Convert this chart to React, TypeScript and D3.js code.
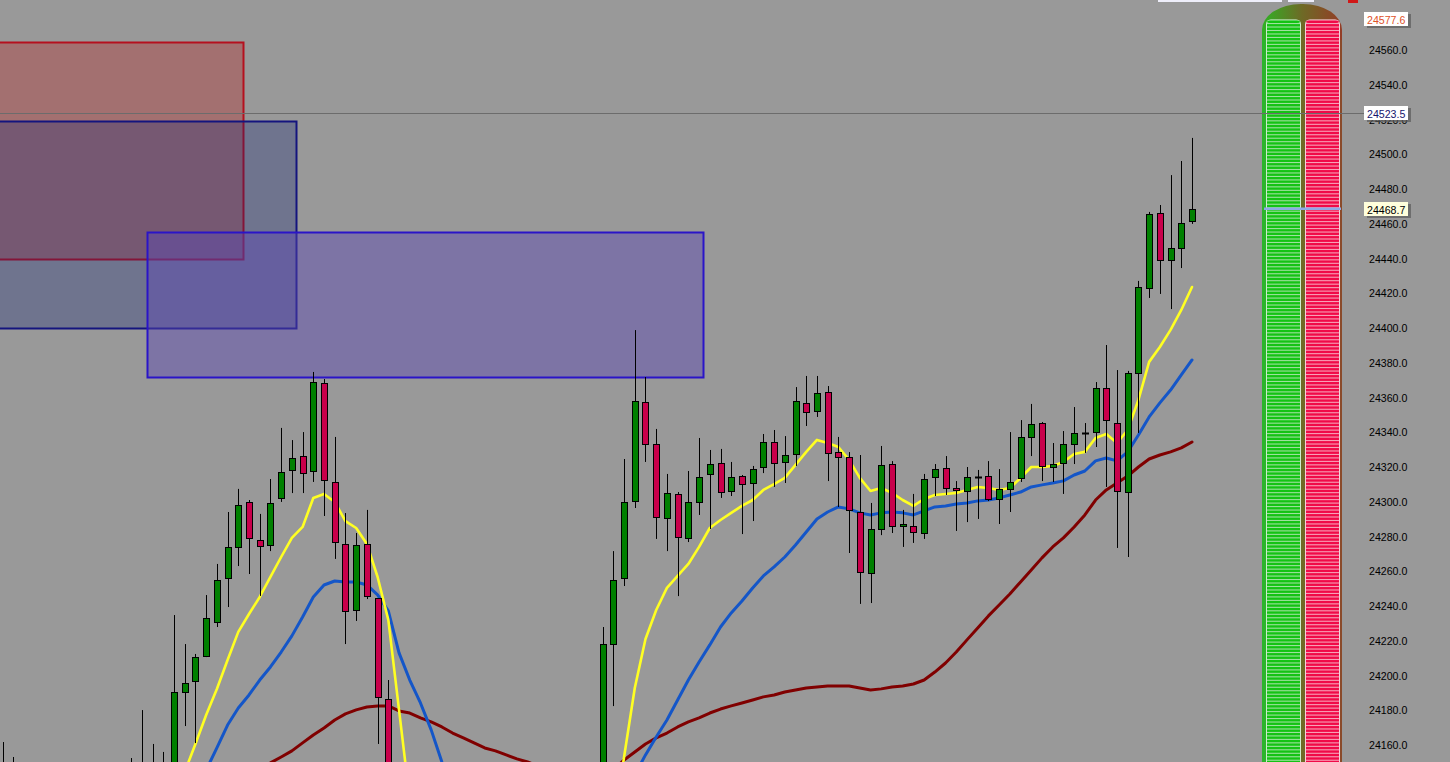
import React from "react";
import * as d3 from "d3";

const W = 1450;
const H = 762;

// OHLC per bar (bar 0 is the leftmost partly visible bar)
const opens = [
  24145, 24140, 24138, 24125, 24132, 24121, 24108, 24118, 24130, 24115, 24105, 24117, 24133, 24128, 24140, 24132,
  24142, 24190.5, 24196.8, 24211.2, 24230.8, 24256.1, 24274.0, 24299.9, 24278.0, 24275.1, 24302.2, 24318.3, 24326.3, 24317.7,
  24368.3, 24311.4, 24275.7, 24237.7, 24275.7, 24244.6, 24186.5,
  24140, 24112, 24120, 24108, 24098, 24110, 24122, 24115, 24102, 24095, 24106, 24118, 24110, 24100, 24092, 24104, 24116, 24128, 24120,
  24134, 24218.1, 24256.1, 24300.4, 24357.4, 24333.2, 24290.6, 24304.5, 24279.1, 24299.9, 24316.0, 24322.3, 24306.2, 24314.8,
  24310.8, 24320.0, 24334.4, 24322.9, 24327.5, 24356.8, 24352.2, 24363.2, 24328.6, 24325.7, 24294.1, 24259.0, 24284.3, 24321.7,
  24286.0, 24286.0, 24282.0, 24314.3, 24319.4, 24307.9, 24306.2, 24314.3, 24314.8, 24301.6, 24307.3, 24313.7, 24337.3, 24345.3,
  24320.0, 24322.3, 24333.2, 24339.6, 24340.1, 24365.5, 24345.3, 24305.6, 24374.1, 24423.0, 24466.2, 24439.1, 24446.0, 24461.6,
];
const highs = [
  24161.7, 24153.1, 24147, 24140, 24145, 24134, 24126, 24138, 24144, 24130, 24122, 24140, 24152.5, 24180.1, 24160.6, 24156.0,
  24234.8, 24218.1, 24212.4, 24246.3, 24264.2, 24294.1, 24307.4, 24301.0, 24293.0, 24313.1, 24342.5, 24335.5, 24340.1, 24374.7,
  24370.6, 24337.3, 24293.5, 24282.0, 24295.3, 24244.6, 24197.4,
  24148, 24130, 24138, 24125, 24115, 24128, 24140, 24130, 24118, 24112, 24124, 24135, 24126, 24118, 24110, 24122, 24135, 24142, 24140,
  24227.9, 24271.6, 24324.6, 24398.8, 24371.8, 24341.9, 24316.0, 24305.6, 24317.7, 24336.7, 24329.8, 24330.4, 24322.9, 24315.4,
  24320.6, 24339.0, 24341.3, 24337.8, 24366.0, 24372.4, 24372.4, 24366.6, 24337.3, 24328.6, 24326.9, 24299.3, 24332.1, 24323.4,
  24295.3, 24304.5, 24316.0, 24321.7, 24326.3, 24311.9, 24320.0, 24318.3, 24323.4, 24318.8, 24340.1, 24347.0, 24356.3, 24345.9,
  24333.8, 24340.7, 24354.5, 24345.3, 24368.9, 24390.2, 24375.8, 24375.3, 24427.1, 24466.8, 24470.8, 24488.0, 24496.1, 24509.4,
];
const lows = [
  24125, 24128, 24120, 24110, 24118, 24100, 24095, 24110, 24112, 24098, 24092, 24108, 24120, 24115, 24125, 24118,
  24130, 24170.9, 24161.1, 24210.6, 24227.9, 24239.4, 24263.0, 24258.4, 24245.8, 24271.6, 24299.9, 24305.0, 24305.0, 24311.4,
  24291.8, 24267.1, 24218.1, 24231.4, 24244.0, 24160.6, 24120,
  24105, 24098, 24102, 24090, 24085, 24100, 24110, 24096, 24088, 24080, 24098, 24105, 24094, 24086, 24078, 24095, 24108, 24112, 24110,
  24125, 24182.4, 24251.5, 24296.4, 24322.9, 24278.6, 24271.6, 24245.7, 24276.8, 24292.4, 24284.3, 24302.2, 24303.3, 24281.4,
  24288.9, 24316.5, 24308.5, 24310.8, 24320.6, 24343.6, 24348.8, 24311.9, 24297.0, 24270.5, 24241.2, 24241.7, 24280.8, 24282.0,
  24274.0, 24276.3, 24278.6, 24303.3, 24303.9, 24283.2, 24288.3, 24290.1, 24300.4, 24287.2, 24294.1, 24311.4, 24326.3, 24311.9,
  24311.4, 24304.5, 24321.7, 24328.1, 24331.5, 24308.5, 24273.4, 24268.2, 24339.6, 24417.3, 24419.6, 24410.9, 24434.5, 24459.9,
];
const closes = [
  24135, 24146, 24125, 24132, 24121, 24108, 24118, 24130, 24115, 24105, 24117, 24133, 24128, 24140, 24132, 24142,
  24190.5, 24195.7, 24210.6, 24233.1, 24255.0, 24274.0, 24298.1, 24279.1, 24274.5, 24299.3, 24317.1, 24325.2, 24316.5, 24368.9,
  24312.5, 24276.8, 24237.1, 24275.1, 24245.7, 24187.6, 24140,
  24112, 24120, 24108, 24098, 24110, 24122, 24115, 24102, 24095, 24106, 24118, 24110, 24100, 24092, 24104, 24116, 24128, 24120, 24134,
  24218.1, 24255.0, 24299.9, 24358.0, 24333.2, 24291.2, 24305.0, 24279.7, 24299.9, 24314.3, 24321.7, 24305.6, 24314.3, 24310.2,
  24318.8, 24334.4, 24322.3, 24326.9, 24358.0, 24351.6, 24362.6, 24328.1, 24325.7, 24295.3, 24259.6, 24284.3, 24321.1, 24286.0,
  24287.2, 24282.6, 24313.1, 24318.8, 24307.9, 24306.8, 24314.3, 24314.3, 24301.6, 24307.3, 24311.4, 24337.3, 24344.8, 24320.6,
  24321.7, 24333.2, 24339.6, 24339.6, 24365.5, 24347.0, 24306.2, 24374.1, 24423.6, 24465.6, 24439.1, 24446.0, 24460.4, 24468.7,
];

// moving averages: visible stretches, each with the bar index it starts at
const fastLeftStart = 17;
const fastLeft = [
  24144.5, 24160.6, 24177.3, 24192.2, 24208.9, 24225.1, 24235.4, 24245.2, 24256.7, 24268.2, 24279.2,
  24285.5, 24302.2, 24304.5, 24299.9, 24288.9, 24284.9, 24275.7, 24256.7, 24232.0, 24180.2, 24128.4,
];
const fastRightStart = 57;
const fastRight = [
  24111.1, 24153.1, 24192.8, 24221.0, 24237.7, 24250.4, 24257.3, 24264.2, 24274.0, 24284.9, 24289.5, 24293.6,
  24297.6, 24301.0, 24306.8, 24310.2, 24313.7, 24321.2, 24328.7, 24335.6, 24333.8, 24331.5, 24324.1, 24313.7,
  24306.2, 24307.9, 24305.1, 24301.0, 24297.6, 24301.6, 24303.9, 24304.5, 24305.1, 24306.8, 24308.5, 24307.9,
  24306.8, 24307.9, 24313.7, 24320.0, 24320.0, 24320.6, 24322.9, 24327.5, 24328.7, 24336.7, 24339.0, 24333.8,
  24341.3, 24358.6, 24380.5, 24389.1, 24398.9, 24410.4, 24423.6,
];
const midLeftStart = 19;
const midLeft = [
  24145.6, 24158.3, 24171.5, 24181.3, 24188.8, 24197.4, 24204.9, 24213.5, 24222.8, 24233.7, 24245.2, 24252.1,
  24254.4, 24253.8, 24253.8, 24252.1, 24246.4, 24237.2, 24213.0, 24197.4, 24184.2, 24168.7, 24150.2, 24134.1,
];
const midRightStart = 59;
const midRight = [
  24142.8, 24154.3, 24164.6, 24174.4, 24185.9, 24197.4, 24207.8, 24217.6, 24227.9, 24236.0, 24242.9, 24250.4,
  24257.3, 24262.5, 24268.2, 24275.1, 24282.6, 24290.1, 24294.1, 24297.0, 24295.9, 24293.6, 24292.4, 24293.6,
  24294.1, 24293.6, 24292.4, 24294.7, 24297.0, 24297.6, 24298.7, 24299.3, 24300.5, 24301.0, 24302.2, 24303.9,
  24305.6, 24308.5, 24309.7, 24310.8, 24312.0, 24315.4, 24317.7, 24323.5, 24325.2, 24323.5, 24328.7, 24338.4,
  24348.8, 24356.9, 24364.3, 24373.0, 24381.6,
];
const slowLeftStart = 24;
const slowLeft = [
  24144.5, 24149.7, 24153.1, 24156.6, 24161.2, 24165.8, 24169.8, 24174.4, 24177.9, 24180.2, 24181.9, 24182.5,
  24182.5, 24179.6, 24178.4, 24175.6, 24173.3, 24170.4, 24166.9, 24164.1, 24161.2, 24158.3, 24156.6, 24154.3,
  24152.0, 24150.2, 24147.9,
];
const slowRightStart = 57;
const slowRight = [
  24145.6, 24151.4, 24156.0, 24160.6, 24164.1, 24166.9, 24170.4, 24173.3, 24175.6, 24178.4, 24180.7, 24182.5,
  24184.2, 24185.9, 24187.7, 24188.8, 24190.5, 24191.7, 24192.8, 24193.4, 24194.0, 24194.0, 24194.0, 24192.8,
  24191.7, 24192.3, 24193.4, 24194.0, 24195.1, 24197.4, 24202.0, 24207.2, 24213.5, 24220.5, 24227.4, 24234.3,
  24240.6, 24246.9, 24253.8, 24260.7, 24267.7, 24274.0, 24279.2, 24285.5, 24292.4, 24301.0, 24306.8, 24310.8,
  24314.8, 24320.0, 24324.6, 24326.9, 24328.7, 24331.0, 24334.4,
];

// zones: bar range and price range
const zoneFrom = [-5, -5, 13.48];
const zoneTo = [22.44, 27.38, 65.36];
const zoneTop = [24564.6, 24519.1, 24455.3];
const zoneBottom = [24439.7, 24400.0, 24371.8];
const zoneFill = ["rgba(190,20,20,0.3)", "rgba(16,33,120,0.3)", "rgba(90,70,180,0.45)"];
const zoneStroke = ["#b5101e", "#14147e", "#2a14c8"];

const priceTicks = [
  24160, 24180, 24200, 24220, 24240, 24260, 24280, 24300, 24320, 24340, 24360,
  24380, 24400, 24420, 24440, 24460, 24480, 24500, 24520, 24540, 24560,
];
const sessionHigh = 24577.6;
const lineLevel = 24523.5;
const lastPrice = 24468.7;

const x = d3.scaleLinear().domain([0, 111]).range([2.55, 1192]);
const y = d3.scaleLinear().domain([24160, 24560]).range([745, 50]);

const UP = "#008000";
const DOWN = "#c8004b";
const FONT = "'Liberation Sans', Arial, sans-serif";

function segment(start: number, values: number[]): [number, number][] {
  return values.map((v, k) => [x(start + k), y(v)]);
}

const line = d3
  .line<[number, number]>()
  .x((d) => d[0])
  .y((d) => d[1]);

const PriceBox: React.FC<{ v: number; bg: string; color: string }> = ({ v, bg, color }) => {
  const cy = Math.round(y(v));
  return (
    <g>
      <rect x={1367} y={cy - 5} width={44} height={14} fill="#5a5a5a" opacity={0.7} />
      <rect x={1364} y={cy - 7} width={44} height={14} fill={bg} />
      <text x={1367} y={cy + 0.5} dominantBaseline="central" fontSize={10.6} fontFamily={FONT} fill={color}>
        {v.toFixed(1)}
      </text>
    </g>
  );
};

export default function App() {
  const profileLevels = d3.range(sessionHigh, 24140, -2);
  const rowH = y(0) - y(2);
  const cols = [
    { x0: 1266, fill: "#14c314", gap: "#9ee09e", edge: "#cfeccf" },
    { x0: 1305, fill: "#f00a48", gap: "#f7a0b6", edge: "#f7d0da" },
  ];
  const colTop = y(sessionHigh);

  return (
    <svg
      width={W}
      height={H}
      style={{ position: "absolute", left: 0, top: 0, display: "block" }}
    >
      <defs>
        <linearGradient id="dome" x1="0" x2="1" y1="0" y2="0">
          <stop offset="0" stopColor="#2fb224" />
          <stop offset="0.5" stopColor="#6e6a26" />
          <stop offset="1" stopColor="#943c26" />
        </linearGradient>
      </defs>
      <rect width={W} height={H} fill="#999999" />

      {/* zones */}
      {zoneFrom.map((f, k) => (
        <rect
          key={k}
          x={Math.round(x(f)) + 0.5}
          y={Math.round(y(zoneTop[k])) + 0.5}
          width={Math.round(x(zoneTo[k]) - x(f))}
          height={Math.round(y(zoneBottom[k]) - y(zoneTop[k]))}
          fill={zoneFill[k]}
          stroke={zoneStroke[k]}
          strokeWidth={2}
        />
      ))}

      {/* moving averages */}
      <g fill="none" strokeLinejoin="round" strokeLinecap="round">
        <path d={line(segment(slowLeftStart, slowLeft)) ?? ""} stroke="#800000" strokeWidth={3} />
        <path d={line(segment(slowRightStart, slowRight)) ?? ""} stroke="#800000" strokeWidth={3} />
        <path d={line(segment(midLeftStart, midLeft)) ?? ""} stroke="#1456c8" strokeWidth={3} />
        <path d={line(segment(midRightStart, midRight)) ?? ""} stroke="#1456c8" strokeWidth={3} />
        <path d={line(segment(fastLeftStart, fastLeft)) ?? ""} stroke="#ffff22" strokeWidth={2.6} />
        <path d={line(segment(fastRightStart, fastRight)) ?? ""} stroke="#ffff22" strokeWidth={2.6} />
      </g>

      {/* candles */}
      {opens.map((o, i) => {
        const c = closes[i];
        const px = Math.round(x(i));
        const cx = px + 0.5;
        const top = y(Math.max(o, c));
        const bot = y(Math.min(o, c));
        return (
          <g key={i}>
            <line x1={cx} x2={cx} y1={y(highs[i])} y2={y(lows[i])} stroke="#000" strokeWidth={1} />
            {o === c ? (
              <line x1={px - 3} x2={px + 4} y1={Math.round(top) + 0.5} y2={Math.round(top) + 0.5} stroke="#000" strokeWidth={2} />
            ) : (
              <rect
                x={px - 3 + 0.5}
                y={Math.round(top) + 0.5}
                width={6}
                height={Math.max(1, Math.round(bot - top))}
                fill={c > o ? UP : DOWN}
                stroke="#000"
                strokeWidth={1}
              />
            )}
          </g>
        );
      })}

      {/* volume profile */}
      <rect x={1262} y={4} width={80} height={900} rx={39} ry={26} fill="url(#dome)" />
      <rect x={1262} y={40} width={4} height={H} fill="#2cb42c" />
      <rect x={1338} y={40} width={4} height={H} fill="#8a4a2a" />
      {cols.map((col, k) => (
        <g key={k}>
          <rect x={col.x0 + 0.5} y={colTop + 0.5} width={34} height={H} rx={4} fill={col.gap} stroke={col.edge} />
          {profileLevels.map((lv, j) => (
            <rect
              key={j}
              x={col.x0 + 1}
              y={y(lv) + 1.2}
              width={33}
              height={rowH - 1.1}
              rx={j === 0 ? 3 : 0}
              fill={col.fill}
            />
          ))}
        </g>
      ))}
      <line x1={1264} x2={1341} y1={y(lastPrice)} y2={y(lastPrice)} stroke="#8eaae6" strokeWidth={2.5} />

      {/* horizontal line */}
      <line x1={0} x2={1365} y1={Math.round(y(lineLevel)) + 0.5} y2={Math.round(y(lineLevel)) + 0.5} stroke="#6c6c6c" strokeWidth={1} />

      {/* partial objects at the top edge */}
      <rect x={1158} y={0} width={124} height={2} fill="#eeeefa" />
      <rect x={1288} y={0} width={26} height={2} fill="#eeeefa" />
      <rect x={1348} y={0} width={10} height={3} fill="#d01818" />

      {/* price axis */}
      {priceTicks.map((t) => (
        <text key={t} x={1369} y={y(t)} dominantBaseline="central" fontSize={10.6} fontFamily={FONT} fill="#000">
          {t.toFixed(1)}
        </text>
      ))}
      <PriceBox v={sessionHigh} bg="#ffffff" color="#e0522a" />
      <PriceBox v={lineLevel} bg="#ffffff" color="#15156e" />
      <PriceBox v={lastPrice} bg="#ffffdc" color="#000000" />
    </svg>
  );
}
